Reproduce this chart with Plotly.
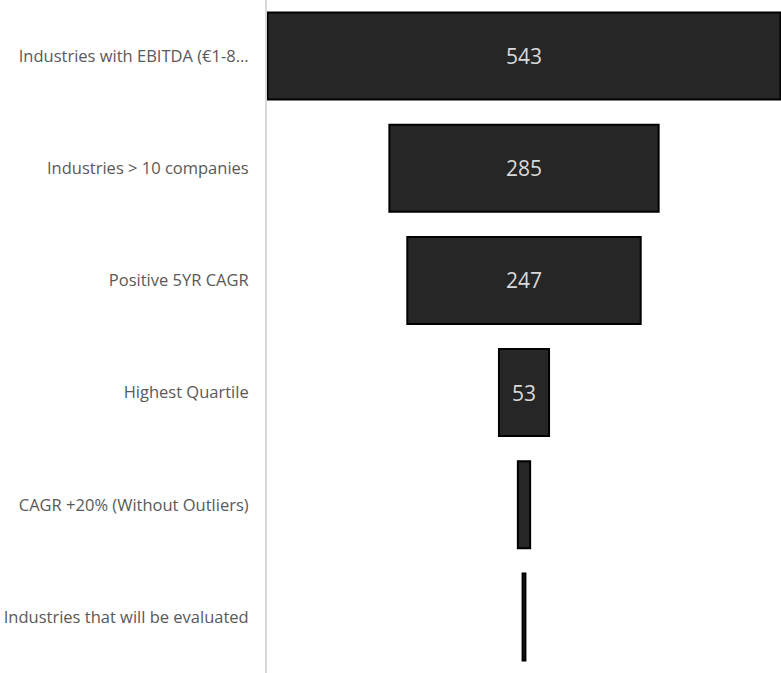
import plotly.graph_objects as go

stages = [
    "Industries with EBITDA (€1-8...",
    "Industries > 10 companies",
    "Positive 5YR CAGR",
    "Highest Quartile",
    "CAGR +20% (Without Outliers)",
    "Industries that will be evaluated",
]
values = [543, 285, 247, 53, 13, 3]

fig = go.Figure(
    go.Funnel(
        y=stages,
        x=values,
        marker=dict(color="#262626", line=dict(color="#000000", width=2)),
        connector=dict(visible=False),
        textinfo="value",
        textposition="inside",
        textfont=dict(family="Open Sans, Lato, sans-serif", size=21, color="#d9d9d9"),
    )
)

fig.update_layout(
    width=781,
    height=673,
    margin=dict(l=267, r=0, t=0, b=0, autoexpand=False),
    paper_bgcolor="white",
    plot_bgcolor="white",
    funnelgap=0.225,
    showlegend=False,
    uniformtext=dict(mode="hide", minsize=20),
    font=dict(family="Open Sans, Lato, sans-serif", size=15, color="#595959"),
)
fig.update_xaxes(visible=False, range=[-max(values) / 2 - 0.5, max(values) / 2 + 0.5])
fig.update_yaxes(
    automargin=False,
    showline=True,
    linecolor="#d9d9d9",
    linewidth=2,
    ticks="",
    ticklabelstandoff=13,
    tickfont=dict(family="Open Sans, Lato, sans-serif", size=16.5, color="#595959"),
    showgrid=False,
)

fig.write_html("out.html")
